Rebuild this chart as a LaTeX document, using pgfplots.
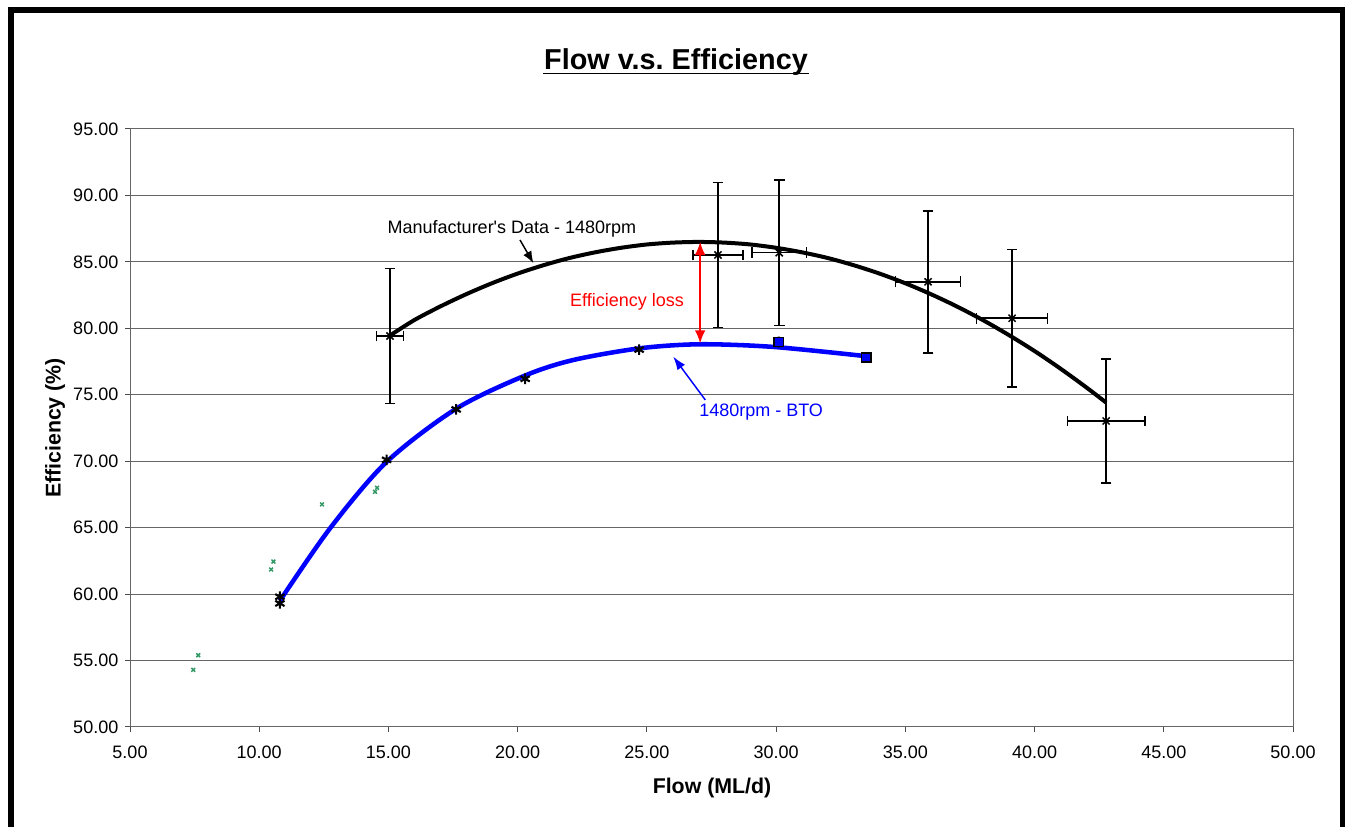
\documentclass[border=0pt]{standalone}
\usepackage{fontspec}
\setmainfont{Liberation Sans}
\usepackage{pgfplots}
\pgfplotsset{compat=1.18}
\usetikzlibrary{arrows.meta}
\definecolor{bto}{RGB}{0,0,255}
\definecolor{seag}{RGB}{51,153,102}
\definecolor{effred}{RGB}{255,0,0}
\frenchspacing
\begin{document}
\begin{tikzpicture}
\useasboundingbox (0,0) rectangle (1008.75pt,620.25pt);
\fill[white] (0,0) rectangle (1008.75pt,620.25pt);
\begin{axis}[
  at={(97.5pt,75pt)}, anchor=south west,
  scale only axis, width=872.25pt, height=448.5pt,
  xmin=5, xmax=50, ymin=50, ymax=95,
  xtick={5,10,...,50}, ytick={50,55,...,95},
  ymajorgrids, grid style={black!60, line width=0.75pt},
  axis line style={black!60, line width=0.75pt},
  tick style={black!70, line width=0.75pt},
  tick align=outside, major tick length=3.75pt,
  tick pos=left,
  xticklabel={\pgfmathprintnumber[fixed,fixed zerofill,precision=2,assume math mode=true]{\tick}},
  yticklabel={\pgfmathprintnumber[fixed,fixed zerofill,precision=2,assume math mode=true]{\tick}},
  ticklabel style={font=\fontsize{13.5}{16}\selectfont},
  xticklabel style={yshift=-7pt},
  yticklabel style={xshift=-1.5pt},
]
% green points
\addplot[only marks, mark=x, mark size=2pt, seag, line width=1.1pt] coordinates {
 (7.45,54.3) (7.64,55.4) (10.46,61.85) (10.55,62.45) (12.43,66.75) (14.48,67.7) (14.56,68.0)};
% BTO data points
\addplot[only marks, mark=asterisk, mark size=4pt, black, line width=1.6pt] coordinates {
 (10.8,59.3) (10.8,59.8) (14.93,70.1) (17.62,73.9) (20.29,76.2) (24.7,78.4) (30.1,78.97) (33.48,77.8)};
\addplot[only marks, mark=square*, mark size=3.5pt, draw=black, fill=bto, line width=1.2pt] coordinates {
 (30.1,78.97) (33.48,77.8)};
% BTO trend
\addplot[bto, line width=3.4pt, smooth] coordinates {
 (10.8,59.5) (12.74,64.95) (14.93,69.95) (17.62,73.95) (20.29,76.45) (22.16,77.62)
 (24.74,78.5) (27.06,78.8) (29.9,78.6) (33.5,77.9)};
% Manufacturer trend
\addplot[black, line width=3pt, smooth] coordinates {
 (15.06,79.46) (16,80.62) (17,81.64) (18,82.56) (19,83.39) (20,84.12) (21,84.75) (22,85.29)
 (23,85.72) (24,86.06) (25,86.31) (26,86.45) (27,86.5) (28,86.45) (29,86.31) (30,86.06)
 (31,85.72) (32,85.29) (33,84.75) (34,84.12) (35,83.39) (36,82.56) (37,81.64) (38,80.62)
 (39,79.5) (40,78.29) (41,76.97) (42,75.56) (42.77,74.41)};
% Manufacturer data with error bars
\addplot[only marks, mark=x, mark size=3.75pt, black, line width=1.1pt,
  error bars/.cd, x dir=both, x explicit, y dir=both, y explicit,
  error bar style={line width=1.1pt, black},
  error mark options={rotate=90, mark size=4pt, line width=1.1pt, black}]
 coordinates {
 (15.06,79.42) +- (0.53,5.08)
 (27.75,85.52) +- (0.97,5.47)
 (30.12,85.69) +- (1.05,5.48)
 (35.88,83.5) +- (1.26,5.34)
 (39.13,80.76) +- (1.37,5.17)
 (42.77,73.03) +- (1.50,4.67)};
% annotations
\node[font=\fontsize{13.5}{16}\selectfont, black] at (axis cs:19.78,87.48) {Manufacturer\textquotesingle s Data - 1480rpm};
\draw[black, line width=1.1pt, -{Latex[length=9pt,width=7pt]}] (axis cs:20.09,86.65) -- (axis cs:20.61,84.9);
\node[font=\fontsize{13.5}{16}\selectfont, effred] at (axis cs:24.23,81.98) {Efficiency loss};
\draw[effred, line width=1.5pt, {Latex[length=10pt,width=8pt]}-{Latex[length=10pt,width=8pt]}] (axis cs:27.06,86.52) -- (axis cs:27.06,78.85);
\node[font=\fontsize{13.5}{16}\selectfont, bto] at (axis cs:29.42,73.7) {1480rpm - BTO};
\draw[bto, line width=1.1pt, -{Latex[length=10pt,width=7pt]}] (axis cs:27.26,74.61) -- (axis cs:26.02,77.87);
\end{axis}
% title and labels
\node[anchor=base, font=\bfseries\fontsize{21.6}{26}\selectfont] at (507pt,567.75pt) {Flow v.s. Efficiency};
\draw[line width=1.3pt] (407.5pt,565.2pt) -- (606.5pt,565.2pt);
\node[rotate=90, font=\bfseries\fontsize{16}{19}\selectfont] at (41.25pt,299.25pt) {Efficiency (\%)};
\node[font=\bfseries\fontsize{16}{19}\selectfont] at (534pt,29.25pt) {Flow (ML/d)};
% frame
\draw[black, line width=4.5pt] (8.25pt,-20pt) -- (8.25pt,612.75pt) -- (1007.25pt,612.75pt) -- (1007.25pt,-20pt);
\end{tikzpicture}
\end{document}
